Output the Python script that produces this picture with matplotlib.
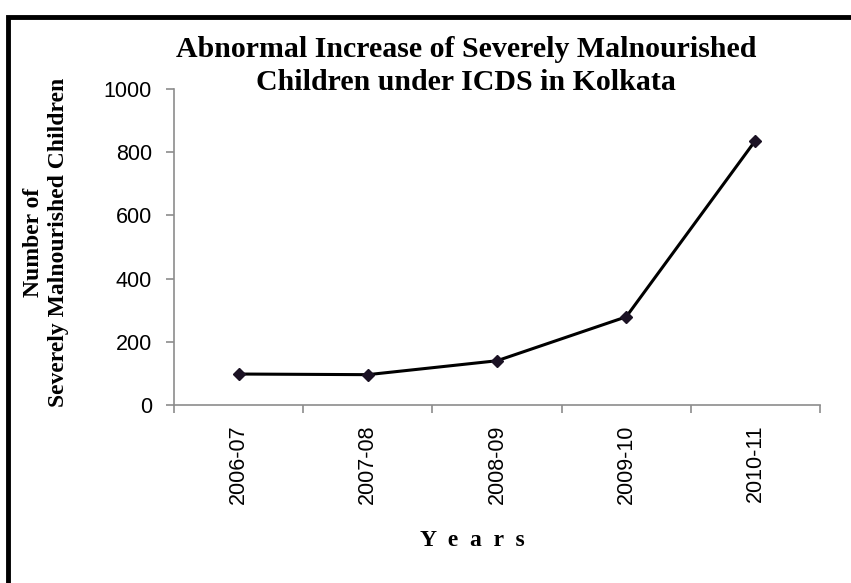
import matplotlib
import matplotlib.pyplot as plt
from matplotlib.patches import Rectangle

matplotlib.use("Agg")

# Severely malnourished children under ICDS, Kolkata
years = ["2006-07", "2007-08", "2008-09", "2009-10", "2010-11"]
children = [98, 96, 140, 279, 837]
y_ticks = [0, 200, 400, 600, 800, 1000]

W, H, DPI = 851, 583, 100
fig = plt.figure(figsize=(W / DPI, H / DPI), dpi=DPI)

# Axes placed in pixel terms: y-axis at x=174, x-axis from 174 to 820
ax = fig.add_axes([174 / W, 1 - 405 / H, (820 - 174) / W, (405 - 89) / H])

x = range(len(years))
ax.plot(x, children, color="black", lw=2.2, marker="D", markersize=6,
        markerfacecolor="#1b1224", markeredgecolor="#1b1224", zorder=3)

ax.set_xlim(-0.5, len(years) - 0.5)
ax.set_ylim(0, 1000)
ax.set_yticks(y_ticks)
ax.set_xticks([i - 0.5 for i in range(len(years) + 1)])
ax.set_xticklabels([])
ax.set_xticks(list(x), minor=True)
ax.set_xticklabels(years, minor=True, rotation=90, family="Liberation Sans",
                   fontsize=15.5)
ax.tick_params(axis="x", which="minor", length=0, pad=14)
ax.tick_params(axis="x", which="major", length=6, width=1.2, color="#8c8c8c")
ax.tick_params(axis="y", length=6, width=1.2, color="#8c8c8c", pad=10,
               labelsize=15.5)
for lab in ax.get_yticklabels():
    lab.set_family("Liberation Sans")

for side in ("top", "right"):
    ax.spines[side].set_visible(False)
for side in ("left", "bottom"):
    ax.spines[side].set_color("#8c8c8c")
    ax.spines[side].set_linewidth(1.2)

serif = "Liberation Serif"
fig.text(466 / W, 1 - 66 / H,
         "Abnormal Increase of Severely Malnourished\nChildren under ICDS in Kolkata",
         ha="center", va="center", family=serif, weight="bold", fontsize=21.5,
         linespacing=1.3)
fig.text(46 / W, 1 - 242 / H, "Number of\nSeverely Malnourished Children",
         ha="center", va="center", rotation=90, family=serif, weight="bold",
         fontsize=17, linespacing=1.25)
fig.text(472 / W, 1 - 541 / H, "Y  e  a  r  s", ha="center", va="center",
         family=serif, weight="bold", fontsize=17)

# Heavy frame around the chart area, running off the right and bottom edges
fig.patches.append(Rectangle((8 / W, -0.05), 1.0, 1 - 17 / H + 0.05,
                             transform=fig.transFigure, fill=False,
                             edgecolor="black", lw=3.5))

fig.savefig("out.png", dpi=DPI)
